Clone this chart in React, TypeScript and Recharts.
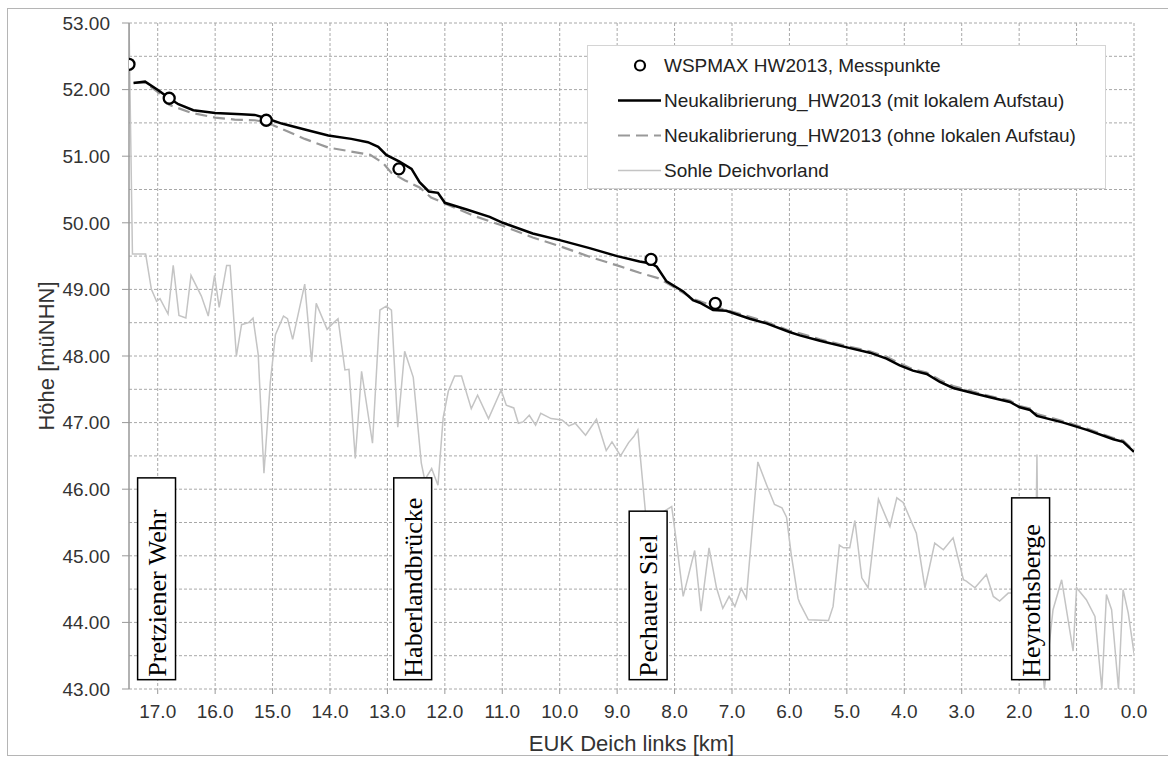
import React from "react";
import {
  ComposedChart,
  CartesianGrid,
  XAxis,
  YAxis,
  Line,
  Scatter,
  ReferenceArea,
  Label,
} from "recharts";

// station along the dyke [km] and height [m uNHN]
const messpunkte = [
  { km: 17.5, h: 52.38 },
  { km: 16.8, h: 51.87 },
  { km: 15.11, h: 51.54 },
  { km: 12.8, h: 50.81 },
  { km: 8.41, h: 49.45 },
  { km: 7.29, h: 48.79 },
];

const mitAufstau = [
  { km: 17.42, h: 52.1 }, { km: 17.22, h: 52.12 }, { km: 16.99, h: 51.99 },
  { km: 16.8, h: 51.87 }, { km: 16.64, h: 51.78 }, { km: 16.38, h: 51.69 },
  { km: 16.0, h: 51.65 }, { km: 15.54, h: 51.63 }, { km: 15.31, h: 51.62 },
  { km: 15.11, h: 51.57 }, { km: 14.84, h: 51.49 }, { km: 14.44, h: 51.4 },
  { km: 14.03, h: 51.31 }, { km: 13.63, h: 51.26 }, { km: 13.34, h: 51.21 },
  { km: 13.16, h: 51.14 }, { km: 13.02, h: 51.02 }, { km: 12.79, h: 50.92 },
  { km: 12.58, h: 50.81 }, { km: 12.44, h: 50.61 }, { km: 12.28, h: 50.47 },
  { km: 12.12, h: 50.45 }, { km: 12.0, h: 50.3 }, { km: 11.62, h: 50.2 },
  { km: 11.22, h: 50.09 }, { km: 10.99, h: 50.0 }, { km: 10.47, h: 49.84 },
  { km: 10.0, h: 49.74 }, { km: 9.48, h: 49.62 }, { km: 9.0, h: 49.5 },
  { km: 8.61, h: 49.42 }, { km: 8.41, h: 49.39 }, { km: 8.31, h: 49.34 },
  { km: 8.14, h: 49.12 }, { km: 7.85, h: 48.97 }, { km: 7.68, h: 48.84 },
  { km: 7.56, h: 48.8 }, { km: 7.33, h: 48.69 }, { km: 7.1, h: 48.68 },
  { km: 6.69, h: 48.56 }, { km: 6.4, h: 48.49 }, { km: 6.0, h: 48.36 },
  { km: 5.82, h: 48.31 }, { km: 5.47, h: 48.23 }, { km: 5.0, h: 48.13 },
  { km: 4.6, h: 48.05 }, { km: 4.31, h: 47.96 }, { km: 4.08, h: 47.86 },
  { km: 3.85, h: 47.78 }, { km: 3.61, h: 47.73 }, { km: 3.38, h: 47.61 },
  { km: 3.15, h: 47.52 }, { km: 2.74, h: 47.43 }, { km: 2.51, h: 47.38 },
  { km: 2.16, h: 47.31 }, { km: 1.99, h: 47.23 }, { km: 1.81, h: 47.19 },
  { km: 1.69, h: 47.1 }, { km: 1.23, h: 47.0 }, { km: 0.82, h: 46.89 },
  { km: 0.36, h: 46.75 }, { km: 0.19, h: 46.71 }, { km: 0.0, h: 46.56 },
];

const ohneAufstau = [
  { km: 17.42, h: 52.1 }, { km: 17.22, h: 52.1 }, { km: 16.99, h: 51.96 },
  { km: 16.8, h: 51.77 }, { km: 16.41, h: 51.65 }, { km: 16.0, h: 51.58 },
  { km: 15.66, h: 51.55 }, { km: 15.31, h: 51.54 }, { km: 15.11, h: 51.51 },
  { km: 14.84, h: 51.41 }, { km: 14.44, h: 51.26 }, { km: 14.03, h: 51.13 },
  { km: 13.63, h: 51.07 }, { km: 13.3, h: 51.02 }, { km: 13.08, h: 50.9 },
  { km: 12.93, h: 50.75 }, { km: 12.7, h: 50.64 }, { km: 12.44, h: 50.53 },
  { km: 12.24, h: 50.38 }, { km: 12.0, h: 50.29 }, { km: 11.48, h: 50.1 },
  { km: 11.04, h: 49.97 }, { km: 10.47, h: 49.78 }, { km: 10.0, h: 49.65 },
  { km: 9.48, h: 49.49 }, { km: 9.0, h: 49.36 }, { km: 8.61, h: 49.25 },
  { km: 8.29, h: 49.17 }, { km: 8.08, h: 49.07 }, { km: 7.68, h: 48.86 },
  { km: 7.22, h: 48.72 }, { km: 6.69, h: 48.59 }, { km: 6.4, h: 48.51 },
  { km: 6.0, h: 48.38 }, { km: 5.82, h: 48.34 }, { km: 5.47, h: 48.25 },
  { km: 5.0, h: 48.15 }, { km: 4.6, h: 48.07 }, { km: 4.31, h: 47.99 },
  { km: 4.08, h: 47.89 }, { km: 3.85, h: 47.8 }, { km: 3.61, h: 47.75 },
  { km: 3.38, h: 47.64 }, { km: 3.15, h: 47.55 }, { km: 2.74, h: 47.45 },
  { km: 2.51, h: 47.4 }, { km: 2.16, h: 47.33 }, { km: 1.99, h: 47.25 },
  { km: 1.81, h: 47.21 }, { km: 1.69, h: 47.13 }, { km: 1.23, h: 47.02 },
  { km: 0.82, h: 46.91 }, { km: 0.36, h: 46.77 }, { km: 0.19, h: 46.73 },
  { km: 0.0, h: 46.58 },
];

const sohle = [
  { km: 17.5, h: 53.0 }, { km: 17.44, h: 49.53 }, { km: 17.21, h: 49.53 },
  { km: 17.11, h: 49.0 }, { km: 17.02, h: 48.82 }, { km: 16.96, h: 48.86 },
  { km: 16.82, h: 48.63 }, { km: 16.73, h: 49.36 }, { km: 16.63, h: 48.61 },
  { km: 16.51, h: 48.57 }, { km: 16.42, h: 49.21 }, { km: 16.24, h: 48.9 },
  { km: 16.12, h: 48.6 }, { km: 16.01, h: 49.21 }, { km: 15.93, h: 48.73 },
  { km: 15.8, h: 49.36 }, { km: 15.74, h: 49.36 }, { km: 15.63, h: 48.0 },
  { km: 15.54, h: 48.47 }, { km: 15.42, h: 48.5 }, { km: 15.34, h: 48.57 },
  { km: 15.25, h: 48.02 }, { km: 15.15, h: 46.24 }, { km: 15.04, h: 47.6 },
  { km: 14.95, h: 48.32 }, { km: 14.81, h: 48.6 }, { km: 14.74, h: 48.56 },
  { km: 14.65, h: 48.25 }, { km: 14.44, h: 49.08 }, { km: 14.32, h: 47.91 },
  { km: 14.24, h: 48.79 }, { km: 14.05, h: 48.4 }, { km: 13.95, h: 48.49 },
  { km: 13.86, h: 48.56 }, { km: 13.74, h: 47.79 }, { km: 13.67, h: 47.8 },
  { km: 13.56, h: 46.46 }, { km: 13.45, h: 47.77 }, { km: 13.26, h: 46.69 },
  { km: 13.13, h: 48.69 }, { km: 13.02, h: 48.75 }, { km: 12.93, h: 48.69 },
  { km: 12.82, h: 46.93 }, { km: 12.7, h: 48.07 }, { km: 12.55, h: 47.68 },
  { km: 12.41, h: 46.39 }, { km: 12.35, h: 46.14 }, { km: 12.23, h: 46.31 },
  { km: 12.12, h: 46.06 }, { km: 12.03, h: 47.07 }, { km: 11.94, h: 47.47 },
  { km: 11.83, h: 47.7 }, { km: 11.71, h: 47.7 }, { km: 11.54, h: 47.21 },
  { km: 11.43, h: 47.41 }, { km: 11.24, h: 47.06 }, { km: 11.02, h: 47.49 },
  { km: 10.93, h: 47.26 }, { km: 10.8, h: 47.22 }, { km: 10.72, h: 46.99 },
  { km: 10.64, h: 47.01 }, { km: 10.53, h: 47.11 }, { km: 10.42, h: 46.96 },
  { km: 10.33, h: 47.14 }, { km: 10.15, h: 47.06 }, { km: 9.96, h: 47.04 },
  { km: 9.84, h: 46.95 }, { km: 9.73, h: 46.99 }, { km: 9.55, h: 46.81 },
  { km: 9.36, h: 47.05 }, { km: 9.19, h: 46.58 }, { km: 9.09, h: 46.71 },
  { km: 8.94, h: 46.5 }, { km: 8.8, h: 46.7 }, { km: 8.71, h: 46.79 },
  { km: 8.64, h: 46.89 }, { km: 8.49, h: 45.5 }, { km: 8.05, h: 45.74 },
  { km: 7.97, h: 45.22 }, { km: 7.85, h: 44.39 }, { km: 7.65, h: 45.08 },
  { km: 7.54, h: 44.17 }, { km: 7.4, h: 45.12 }, { km: 7.27, h: 44.52 },
  { km: 7.16, h: 44.21 }, { km: 7.05, h: 44.39 }, { km: 6.95, h: 44.24 },
  { km: 6.84, h: 44.51 }, { km: 6.75, h: 44.36 }, { km: 6.55, h: 46.41 },
  { km: 6.4, h: 46.07 }, { km: 6.26, h: 45.77 }, { km: 6.13, h: 45.72 },
  { km: 6.05, h: 45.58 }, { km: 5.97, h: 45.03 }, { km: 5.85, h: 44.36 },
  { km: 5.82, h: 44.29 }, { km: 5.67, h: 44.04 }, { km: 5.32, h: 44.03 },
  { km: 5.24, h: 44.24 }, { km: 5.13, h: 45.16 }, { km: 5.06, h: 45.12 },
  { km: 4.95, h: 45.12 }, { km: 4.86, h: 45.53 }, { km: 4.74, h: 44.67 },
  { km: 4.63, h: 44.52 }, { km: 4.45, h: 45.85 }, { km: 4.25, h: 45.44 },
  { km: 4.13, h: 45.87 }, { km: 4.02, h: 45.8 }, { km: 3.79, h: 45.34 },
  { km: 3.64, h: 44.52 }, { km: 3.47, h: 45.19 }, { km: 3.32, h: 45.09 },
  { km: 3.15, h: 45.27 }, { km: 2.97, h: 44.64 }, { km: 2.92, h: 44.62 },
  { km: 2.77, h: 44.52 }, { km: 2.57, h: 44.72 }, { km: 2.45, h: 44.39 },
  { km: 2.34, h: 44.32 }, { km: 2.19, h: 44.44 }, { km: 2.1, h: 44.44 },
  { km: 1.72, h: 44.4 }, { km: 1.69, h: 46.52 }, { km: 1.66, h: 44.0 },
  { km: 1.56, h: 43.0 }, { km: 1.41, h: 44.19 }, { km: 1.26, h: 44.64 },
  { km: 1.06, h: 43.57 }, { km: 1.0, h: 44.52 }, { km: 0.83, h: 44.34 },
  { km: 0.68, h: 44.09 }, { km: 0.56, h: 43.0 }, { km: 0.48, h: 44.42 },
  { km: 0.39, h: 44.19 }, { km: 0.27, h: 43.0 }, { km: 0.19, h: 44.49 },
  { km: 0.1, h: 44.14 }, { km: 0.0, h: 43.54 },
];

// labelled structures along the dyke: centre km and top of the box
const bauwerke = [
  { name: "Pretziener Wehr", km: 17.02, top: 46.17 },
  { name: "Haberlandbrücke", km: 12.56, top: 46.17 },
  { name: "Pechauer Siel", km: 8.46, top: 45.67 },
  { name: "Heyrothsberge", km: 1.8, top: 45.87 },
];

const kmTicks = [17, 16, 15, 14, 13, 12, 11, 10, 9, 8, 7, 6, 5, 4, 3, 2, 1, 0];
const hTicks = [43, 44, 45, 46, 47, 48, 49, 50, 51, 52, 53];
const hGrid = [
  43, 43.5, 44, 44.5, 45, 45.5, 46, 46.5, 47, 47.5, 48, 48.5, 49, 49.5, 50,
  50.5, 51, 51.5, 52, 52.5, 53,
];

const NAME_MESS = "WSPMAX HW2013, Messpunkte";
const NAME_MIT = "Neukalibrierung_HW2013 (mit lokalem Aufstau)";
const NAME_OHNE = "Neukalibrierung_HW2013 (ohne lokalen Aufstau)";
const NAME_SOHLE = "Sohle Deichvorland";

const FONT = '"Liberation Sans", Arial, sans-serif';
const BOX_BOTTOM = 43.14;
const BOX_HALF = 0.33;

const boxShape = (name: string) => (p: any) => (
  <g>
    <rect
      x={p.x}
      y={p.y}
      width={p.width}
      height={p.height}
      fill="#fff"
      stroke="#000"
      strokeWidth={1.5}
    />
    <text
      transform={`translate(${p.x + p.width / 2 + 9}, ${p.y + p.height - 3}) rotate(-90)`}
      fontFamily='"Liberation Serif", "Times New Roman", serif'
      fontSize={26}
      fill="#000"
    >
      {name}
    </text>
  </g>
);

const YTitle = (props: any) => {
  const vb = props.viewBox;
  const cx = vb.x + 46;
  const cy = vb.y + vb.height / 2;
  return (
    <text
      x={cx}
      y={cy}
      transform={`rotate(-90 ${cx} ${cy})`}
      textAnchor="middle"
      dominantBaseline="central"
      fontFamily={FONT}
      fontSize={22}
      fill="#333"
    >
      Höhe [müNHN]
    </text>
  );
};

function LegendBox() {
  const rows = [
    { name: NAME_MESS, kind: "dot" },
    { name: NAME_MIT, kind: "black" },
    { name: NAME_OHNE, kind: "dash" },
    { name: NAME_SOHLE, kind: "sohle" },
  ];
  return (
    <div
      style={{
        position: "absolute",
        left: 587,
        top: 45,
        width: 519,
        height: 144,
        background: "#fff",
        border: "1px solid #d4d4d4",
        boxSizing: "border-box",
        fontFamily: FONT,
        fontSize: 19,
        color: "#222",
      }}
    >
      {rows.map((r, i) => (
        <div
          key={r.name}
          style={{
            position: "absolute",
            left: 0,
            top: 2 + i * 35,
            height: 35,
            display: "flex",
            alignItems: "center",
          }}
        >
          <svg width={76} height={35} style={{ display: "block" }}>
            {r.kind === "dot" && (
              <circle cx={52} cy={17.5} r={5} fill="#fff" stroke="#000" strokeWidth={2.2} />
            )}
            {r.kind === "black" && (
              <line x1={30} x2={73} y1={17.5} y2={17.5} stroke="#000" strokeWidth={2.5} />
            )}
            {r.kind === "dash" && (
              <line
                x1={30}
                x2={73}
                y1={17.5}
                y2={17.5}
                stroke="#999"
                strokeWidth={2.2}
                strokeDasharray="12 6"
              />
            )}
            {r.kind === "sohle" && (
              <line x1={30} x2={73} y1={17.5} y2={17.5} stroke="#c4c4c4" strokeWidth={1.5} />
            )}
          </svg>
          <span style={{ whiteSpace: "nowrap" }}>{r.name}</span>
        </div>
      ))}
    </div>
  );
}

export default function App() {
  return (
    <div
      style={{
        position: "absolute",
        left: 0,
        top: 0,
        width: 1168,
        height: 758,
        background: "#fff",
        overflow: "hidden",
      }}
    >
      <div
        style={{
          position: "absolute",
          left: 7,
          top: 8,
          width: 1180,
          height: 748,
          border: "1.5px solid #b5b5b5",
          boxSizing: "border-box",
        }}
      />
      <ComposedChart
        width={1168}
        height={758}
        margin={{ top: 23, right: 34, left: 0, bottom: 0 }}
        style={{ position: "absolute", left: 0, top: 0 }}
      >
        <CartesianGrid
          stroke="#a8a8a8"
          strokeDasharray="3 2"
          horizontalValues={hGrid}
          verticalValues={kmTicks}
        />
        <XAxis
          type="number"
          dataKey="km"
          domain={[0, 17.5]}
          reversed
          ticks={kmTicks}
          tickFormatter={(v: number) => v.toFixed(1)}
          axisLine={false}
          tickLine={{ stroke: "#999" }}
          tickSize={5}
          tickMargin={11}
          height={69}
          tick={{ fontFamily: FONT, fontSize: 19, fill: "#333" }}
          allowDataOverflow
        >
          <Label
            value="EUK Deich links [km]"
            position="insideBottom"
            offset={7}
            style={{ fontFamily: FONT, fontSize: 22, fill: "#333" }}
          />
        </XAxis>
        <YAxis
          type="number"
          domain={[43, 53]}
          ticks={hTicks}
          tickFormatter={(v: number) => v.toFixed(2)}
          axisLine={{ stroke: "#999", strokeWidth: 1.5 }}
          tickLine={{ stroke: "#999" }}
          tickSize={7}
          tickMargin={12}
          width={129}
          tick={{ fontFamily: FONT, fontSize: 19, fill: "#333" }}
          allowDataOverflow
        >
          <Label content={<YTitle />} />
        </YAxis>
        <Line
          data={sohle}
          dataKey="h"
          name={NAME_SOHLE}
          type="linear"
          stroke="#c4c4c4"
          strokeWidth={1.5}
          dot={false}
          activeDot={false}
          isAnimationActive={false}
        />
        <Line
          data={ohneAufstau}
          dataKey="h"
          name={NAME_OHNE}
          type="linear"
          stroke="#999"
          strokeWidth={2.2}
          strokeDasharray="12 6"
          dot={false}
          activeDot={false}
          isAnimationActive={false}
        />
        <Line
          data={mitAufstau}
          dataKey="h"
          name={NAME_MIT}
          type="linear"
          stroke="#000"
          strokeWidth={2.5}
          dot={false}
          activeDot={false}
          isAnimationActive={false}
        />
        {bauwerke.map((b) => (
          <ReferenceArea
            key={b.name}
            x1={b.km + BOX_HALF}
            x2={b.km - BOX_HALF}
            y1={BOX_BOTTOM}
            y2={b.top}
            shape={boxShape(b.name)}
            zIndex={1500}
          />
        ))}
        <Scatter
          data={messpunkte}
          dataKey="h"
          name={NAME_MESS}
          shape={(p: any) => (
            <circle cx={p.cx} cy={p.cy} r={5.5} fill="#fff" stroke="#000" strokeWidth={2.3} />
          )}
          isAnimationActive={false}
        />
      </ComposedChart>
      <LegendBox />
    </div>
  );
}
